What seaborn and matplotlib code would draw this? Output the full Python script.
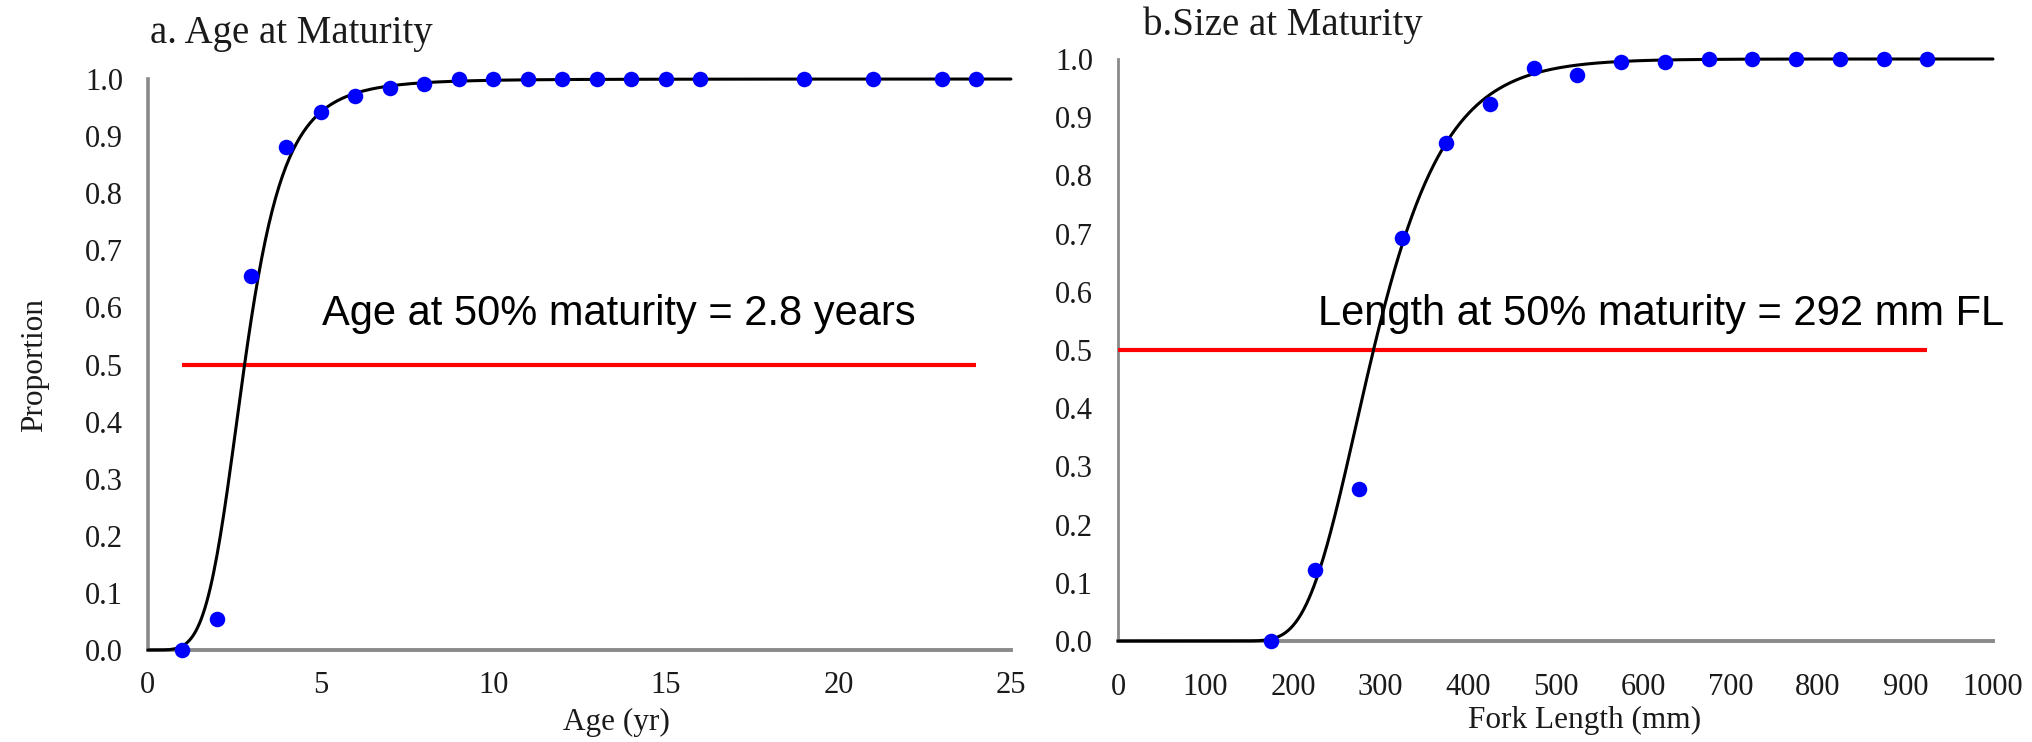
import numpy as np
import pandas as pd
import matplotlib
matplotlib.use("Agg")
import matplotlib.pyplot as plt
from matplotlib import font_manager
import seaborn as sns

# ---- observed proportions mature ----
ages = [1, 2, 3, 4, 5, 6, 7, 8, 9, 10, 11, 12, 13, 14, 15, 16, 19, 21, 23, 24]
age_prop = [0.0, 0.055, 0.655, 0.881, 0.942, 0.970, 0.984, 0.992, 1.0, 1.0,
            1.0, 1.0, 1.0, 1.0, 1.0, 1.0, 1.0, 1.0, 1.0, 1.0]

lengths = [175, 225, 275, 325, 375, 425, 475, 525, 575, 625, 675, 725, 775,
           825, 875, 925]
length_prop = [0.0, 0.122, 0.262, 0.693, 0.856, 0.922, 0.984, 0.972, 0.995,
               0.994, 1.0, 1.0, 1.0, 1.0, 1.0, 1.0]

# ---- fitted maturity ogives ----
age50 = 2.8          # years
age_slope = 4.8      # log-logistic shape
len50 = 292          # mm FL
len_rate = 0.018     # Gompertz rate

age_ticks = [0, 5, 10, 15, 20, 25]
len_ticks = [0, 100, 200, 300, 400, 500, 600, 700, 800, 900, 1000]
prop_ticks = [0.0, 0.1, 0.2, 0.3, 0.4, 0.5, 0.6, 0.7, 0.8, 0.9, 1.0]

# extent of the 50 % reference lines
age_ref_span = [1, 24]
len_ref_span = [0, 925]


def age_ogive(x):
    x = np.asarray(x, dtype=float)
    with np.errstate(divide="ignore"):
        return 1.0 / (1.0 + np.power(x / age50, -age_slope))


def length_ogive(x):
    x = np.asarray(x, dtype=float)
    return np.exp(-np.log(2.0) * np.exp(-len_rate * (x - len50)))


sns.set_style("white")
serif = ["Liberation Serif", "DejaVu Serif"]
plt.rcParams["font.family"] = serif

# narrow sans for the in-plot annotations
names = {f.name for f in font_manager.fontManager.ttflist}
note_family = "Liberation Sans Narrow" if "Liberation Sans Narrow" in names else "Liberation Sans"
note_size = 36 if note_family == "Liberation Sans Narrow" else 30

axis_grey = "#8a8a8a"
text_col = "#1a1a1a"

fig = plt.figure(figsize=(20.32, 7.42), dpi=100)
ax1 = fig.add_axes([0.0728, 0.124, 0.4247, 0.7695])
ax2 = fig.add_axes([0.5502, 0.1361, 0.4306, 0.7844])

age_grid = np.linspace(0, 25, 501)
len_grid = np.linspace(0, 1000, 1001)
age_fit = pd.DataFrame({"x": age_grid, "p": age_ogive(age_grid)})
len_fit = pd.DataFrame({"x": len_grid, "p": length_ogive(len_grid)})
age_obs = pd.DataFrame({"x": ages, "p": age_prop})
len_obs = pd.DataFrame({"x": lengths, "p": length_prop})

panels = [
    dict(ax=ax1, fit=age_fit, obs=age_obs, span=age_ref_span, xlim=(0, 25),
         xticks=age_ticks, xlabel="Age (yr)", xpad=8, lpos=(0.543, -0.101),
         title="a. Age at Maturity", tpos=(0.002, 1.063),
         note="Age at 50% maturity = {:.1f} years".format(age50),
         npos=(5.05, 0.569), spw=2.6),
    dict(ax=ax2, fit=len_fit, obs=len_obs, span=len_ref_span, xlim=(0, 1000),
         xticks=len_ticks, xlabel="Fork Length (mm)", xpad=16,
         lpos=(0.533, -0.111),
         title="b.Size at Maturity", tpos=(0.0286, 1.041),
         note="Length at 50% maturity = {:d} mm FL".format(len50),
         npos=(229, 0.543), spw=2.0),
]

for p in panels:
    ax = p["ax"]
    # 50 % reference line
    ax.plot(p["span"], [0.5, 0.5], color="#ff0000", lw=3.0,
            solid_capstyle="butt", zorder=2)
    sns.lineplot(data=p["fit"], x="x", y="p", ax=ax, color="black", lw=2.2,
                 zorder=3, clip_on=False)
    sns.scatterplot(data=p["obs"], x="x", y="p", ax=ax, color="#0000ff", s=125,
                    linewidth=0, zorder=4, clip_on=False)

    ax.set_xlim(*p["xlim"])
    ax.set_ylim(0, 1.0)
    ax.set_xticks(p["xticks"])
    ax.set_yticks(prop_ticks)
    ax.set_yticklabels(["{:.1f}".format(t) for t in prop_ticks])
    for s in ("top", "right"):
        ax.spines[s].set_visible(False)
    for s in ("left", "bottom"):
        ax.spines[s].set_color(axis_grey)
        ax.spines[s].set_linewidth(p["spw"] if s == "left" else 2.8)
        ax.spines[s].set_zorder(1)
    ax.tick_params(axis="both", direction="inout", length=14, width=1.6,
                   color=axis_grey, labelsize=22, labelcolor=text_col, pad=11)
    ax.tick_params(axis="x", pad=p["xpad"])

    ax.set_xlabel(p["xlabel"], fontsize=22.5, color=text_col)
    ax.xaxis.set_label_coords(*p["lpos"])
    ax.set_ylabel("")
    ax.text(p["tpos"][0], p["tpos"][1], p["title"], transform=ax.transAxes,
            fontsize=28, color=text_col, ha="left", va="baseline")
    ax.text(p["npos"][0], p["npos"][1], p["note"], fontsize=note_size,
            color="black", family=[note_family, "DejaVu Sans"], ha="left",
            va="baseline", zorder=5)

ax1.set_ylabel("Proportion", fontsize=22.5, color=text_col, labelpad=26)

fig.savefig("out.png", dpi=100, facecolor="white")
